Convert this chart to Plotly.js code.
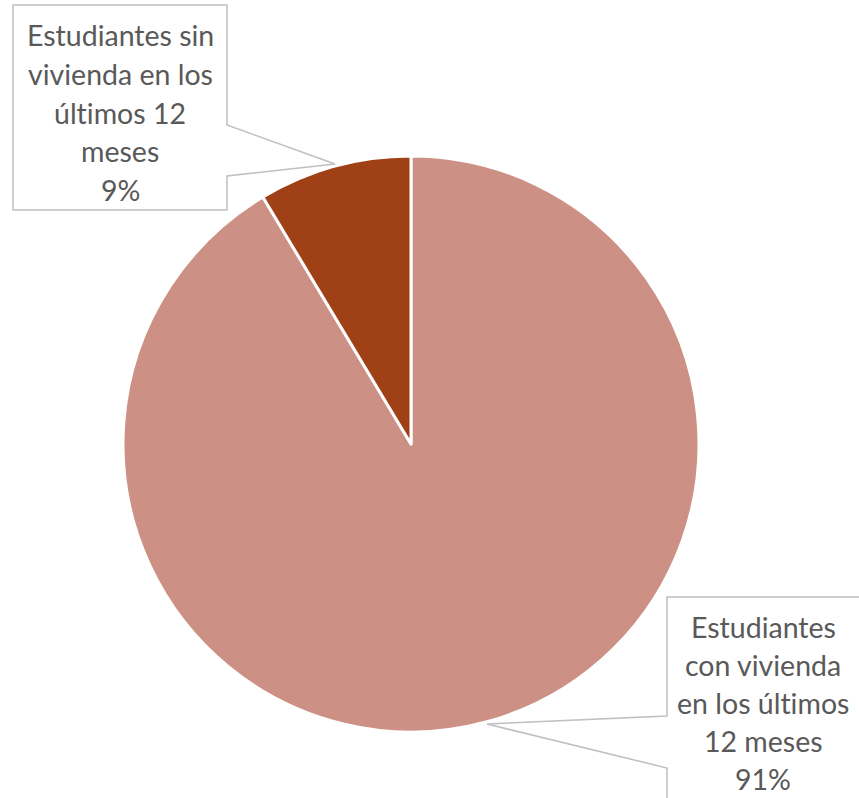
<!DOCTYPE html>
<html><head><meta charset="utf-8">
<script src="https://cdn.plot.ly/plotly-3.0.1.min.js"></script>
<style>html,body{margin:0;padding:0;background:#fff} text{font-variant-ligatures:none;font-feature-settings:"liga" 0}</style>
</head><body>
<div id="chart" style="width:859px;height:798px"></div>
<script>
// Data
const categories = ["Estudiantes con vivienda en los últimos 12 meses", "Estudiantes sin vivienda en los últimos 12 meses"];
const values = [91.4, 8.6];
const colors = ["#CC9085", "#A04016"];
const labelLines = [
  ["Estudiantes", "con vivienda", "en los últimos", "12 meses"],
  ["Estudiantes sin", "vivienda en los", "últimos 12", "meses"]
];

const W = 859, H = 798;
const px = x => x / W, py = y => 1 - y / H;
const total = values.reduce((a, b) => a + b, 0);
const pct = values.map(v => Math.round(v / total * 100) + "%");

// Label box layout (pixels)
const boxes = [
  {cx: 763, y0: 627, step: 38, box: [667, 597, 870, 810], tip: [487, 724], side: "left", gap: [716, 768]},
  {cx: 120, y0: 35, step: 38.8, box: [13, 5, 227, 210], tip: [335, 164], side: "right", gap: [125, 176]}
];
const font = {family: "Lato, 'Noto Sans', sans-serif", size: 28.5, color: "#595959"};

const annotations = [];
const shapes = [];
boxes.forEach((b, i) => {
  const lines = labelLines[i].concat([pct[i]]);
  lines.forEach((t, k) => {
    annotations.push({
      xref: "paper", yref: "paper", x: px(b.cx), y: py(b.y0 + k * b.step),
      text: t, showarrow: false, xanchor: "center", yanchor: "middle", font: font
    });
  });
  const [x0, y0, x1, y1] = b.box;
  let pts;
  if (b.side === "left") {
    pts = [[x0, y0], [x1, y0], [x1, y1], [x0, y1], [x0, b.gap[1]], b.tip, [x0, b.gap[0]], [x0, y0]];
  } else {
    pts = [[x0, y0], [x1, y0], [x1, b.gap[0]], b.tip, [x1, b.gap[1]], [x1, y1], [x0, y1], [x0, y0]];
  }
  const path = pts.map((p, k) => (k ? "L" : "M") + px(p[0]).toFixed(5) + "," + py(p[1]).toFixed(5)).join(" ") + " Z";
  shapes.push({type: "path", xref: "paper", yref: "paper", path: path,
    line: {color: "#BFBFBF", width: 1.5}, fillcolor: "rgba(255,255,255,0)", layer: "above"});
});

const cx = 411, cy = 444, r = 288;
const trace = {
  type: "pie",
  labels: categories,
  values: values,
  sort: false,
  direction: "clockwise",
  rotation: 0,
  textinfo: "none",
  hoverinfo: "label+percent",
  marker: {colors: colors, line: {color: "#FFFFFF", width: 3}},
  domain: {x: [px(cx - r), px(cx + r)], y: [py(cy + r), py(cy - r)]},
  showlegend: false
};

Plotly.newPlot("chart", [trace], {
  width: W, height: H,
  margin: {l: 0, r: 0, t: 0, b: 0},
  paper_bgcolor: "#FFFFFF",
  showlegend: false,
  annotations: annotations,
  shapes: shapes
}, {displayModeBar: false, staticPlot: true});
</script>
</body></html>
